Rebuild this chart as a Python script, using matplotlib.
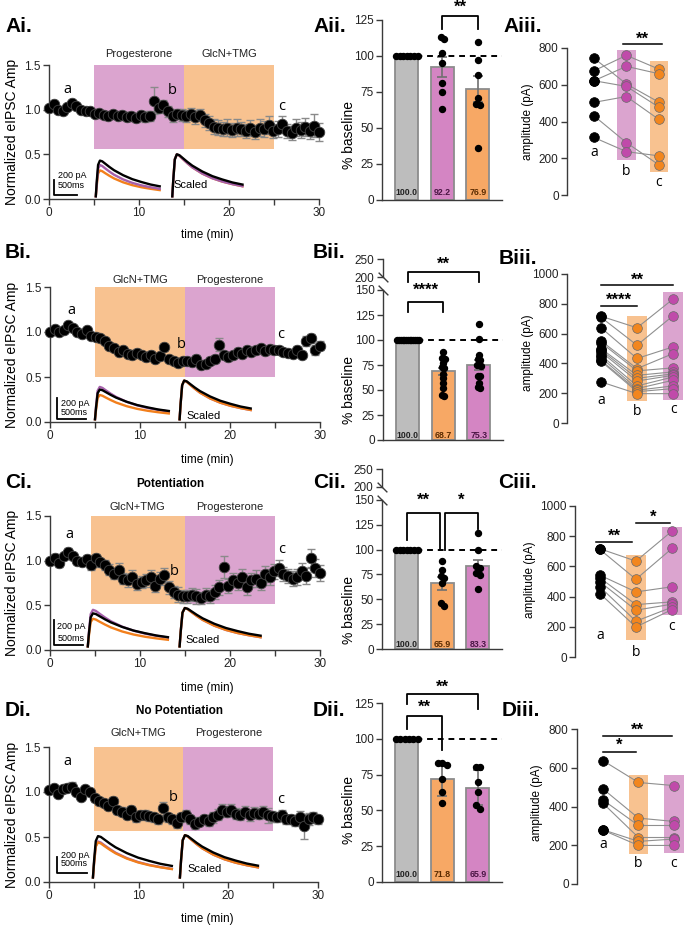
import numpy as np
import matplotlib.pyplot as plt

plt.rcParams['font.family'] = ['Liberation Sans', 'DejaVu Sans']

W, H = 685, 927

# ---------------- time course: normalized eIPSC amplitude (0.5 min bins) ----------------
tc_A = [1.02, 1.06, 1.00, 0.98, 1.03, 1.07, 1.04, 1.00, 0.98, 0.98,
        0.95, 0.96, 0.94, 0.93, 0.95, 0.93, 0.94, 0.92, 0.93, 0.91,
        0.94, 0.92, 0.93, 1.10, 1.02, 1.05, 0.98, 0.93, 0.95, 0.94,
        0.93, 0.95, 0.92, 0.94, 0.88, 0.85, 0.81, 0.80, 0.78, 0.80,
        0.77, 0.80, 0.78, 0.76, 0.79, 0.75, 0.80, 0.78, 0.83, 0.76,
        0.78, 0.84, 0.76, 0.74, 0.80, 0.77, 0.81, 0.76, 0.82, 0.75]
tc_A_err = [0.02, 0.03, 0.03, 0.02, 0.03, 0.03, 0.03, 0.02, 0.02, 0.02,
            0.03, 0.03, 0.03, 0.04, 0.03, 0.04, 0.04, 0.05, 0.04, 0.05,
            0.05, 0.06, 0.06, 0.15, 0.06, 0.06, 0.06, 0.07, 0.06, 0.07,
            0.07, 0.07, 0.08, 0.07, 0.07, 0.08, 0.08, 0.08, 0.08, 0.09,
            0.08, 0.09, 0.08, 0.08, 0.09, 0.08, 0.09, 0.09, 0.10, 0.08,
            0.09, 0.09, 0.08, 0.08, 0.10, 0.09, 0.10, 0.09, 0.13, 0.10]

tc_B = [1.00, 1.03, 1.00, 1.02, 1.08, 1.04, 1.00, 0.98, 1.02, 0.96,
        0.95, 0.93, 0.90, 0.85, 0.82, 0.78, 0.80, 0.76, 0.75, 0.77,
        0.74, 0.72, 0.75, 0.70, 0.73, 0.83, 0.70, 0.68, 0.66, 0.68,
        0.68, 0.67, 0.70, 0.63, 0.64, 0.68, 0.70, 0.86, 0.75, 0.72,
        0.74, 0.78, 0.76, 0.80, 0.78, 0.80, 0.82, 0.79, 0.81, 0.80,
        0.80, 0.78, 0.77, 0.76, 0.80, 0.75, 0.90, 0.93, 0.80, 0.85]
tc_B_err = [0.02, 0.02, 0.02, 0.02, 0.03, 0.03, 0.02, 0.02, 0.03, 0.03,
            0.03, 0.03, 0.03, 0.03, 0.03, 0.04, 0.03, 0.04, 0.03, 0.04,
            0.03, 0.04, 0.04, 0.03, 0.04, 0.04, 0.03, 0.03, 0.04, 0.03,
            0.03, 0.03, 0.04, 0.03, 0.03, 0.04, 0.04, 0.07, 0.04, 0.04,
            0.04, 0.04, 0.04, 0.05, 0.04, 0.04, 0.04, 0.04, 0.04, 0.04,
            0.04, 0.04, 0.04, 0.04, 0.04, 0.04, 0.06, 0.05, 0.06, 0.05]

tc_C = [1.00, 1.03, 0.97, 1.05, 1.10, 1.05, 1.00, 0.98, 1.02, 0.95,
        1.03, 0.98, 0.95, 0.90, 0.85, 0.90, 0.80, 0.78, 0.82, 0.74,
        0.76, 0.78, 0.82, 0.72, 0.80, 0.84, 0.70, 0.65, 0.62, 0.60,
        0.60, 0.62, 0.60, 0.58, 0.62, 0.60, 0.65, 0.70, 0.93, 0.72,
        0.78, 0.75, 0.82, 0.70, 0.78, 0.80, 0.75, 0.85, 0.82, 0.88,
        0.92, 0.85, 0.83, 0.80, 0.82, 0.88, 0.83, 1.03, 0.92, 0.86]
tc_C_err = [0.03, 0.04, 0.04, 0.03, 0.04, 0.04, 0.04, 0.03, 0.04, 0.05,
            0.05, 0.05, 0.06, 0.06, 0.06, 0.07, 0.06, 0.07, 0.07, 0.07,
            0.07, 0.07, 0.08, 0.07, 0.07, 0.08, 0.07, 0.07, 0.08, 0.07,
            0.07, 0.07, 0.08, 0.07, 0.07, 0.07, 0.08, 0.08, 0.12, 0.08,
            0.08, 0.08, 0.09, 0.08, 0.08, 0.09, 0.08, 0.09, 0.09, 0.08,
            0.09, 0.08, 0.08, 0.08, 0.09, 0.09, 0.09, 0.10, 0.10, 0.09]

tc_D = [1.02, 1.04, 0.98, 1.03, 1.05, 1.06, 1.00, 0.95, 1.03, 1.00,
        0.93, 0.90, 0.88, 0.85, 0.90, 0.80, 0.78, 0.75, 0.80, 0.72,
        0.74, 0.75, 0.73, 0.72, 0.70, 0.82, 0.72, 0.70, 0.66, 0.72,
        0.75, 0.70, 0.65, 0.67, 0.70, 0.68, 0.72, 0.75, 0.80, 0.78,
        0.80, 0.76, 0.75, 0.78, 0.74, 0.77, 0.76, 0.78, 0.74, 0.73,
        0.72, 0.74, 0.70, 0.70, 0.68, 0.72, 0.62, 0.70, 0.72, 0.70]
tc_D_err = [0.02, 0.03, 0.03, 0.03, 0.04, 0.05, 0.03, 0.03, 0.04, 0.03,
            0.04, 0.04, 0.04, 0.04, 0.05, 0.04, 0.05, 0.05, 0.05, 0.05,
            0.05, 0.05, 0.05, 0.05, 0.05, 0.07, 0.05, 0.05, 0.06, 0.05,
            0.05, 0.05, 0.06, 0.05, 0.05, 0.06, 0.06, 0.06, 0.07, 0.06,
            0.07, 0.06, 0.06, 0.06, 0.06, 0.06, 0.06, 0.07, 0.08, 0.06,
            0.05, 0.06, 0.05, 0.05, 0.06, 0.07, 0.14, 0.07, 0.06, 0.05]

# example eIPSC trace template (relative time in min, relative amplitude)
trace_t = [0, 0.1, 0.25, 0.45, 0.7, 1.0, 1.5, 2.0, 3.0, 4.0, 5.0, 6.0, 7.0]
trace_slow = [0, 0.4, 0.88, 1.0, 0.98, 0.92, 0.82, 0.73, 0.59, 0.48, 0.40, 0.33, 0.28]
trace_fast = [0, 0.4, 0.88, 1.0, 0.97, 0.90, 0.79, 0.69, 0.54, 0.43, 0.35, 0.29, 0.24]

# ---------------- % baseline bars ----------------
bar_A = [100.0, 92.2, 76.9]
bar_A_err = [0, 7.0, 9.0]
pts_A = [[100] * 7, [113, 112, 102, 95, 81, 75, 63], [110, 97, 87, 71, 67, 66, 36]]

bar_B = [100.0, 68.7, 75.3]
bar_B_err = [0, 3.5, 5.0]
pts_B = [[100] * 13, [88, 82, 82, 81, 77, 73, 72, 66, 62, 57, 52, 45, 44],
         [116, 101, 85, 81, 80, 75, 75, 74, 64, 64, 57, 53, 52]]

bar_C = [100.0, 65.9, 83.3]
bar_C_err = [0, 6.5, 6.5]
pts_C = [[100] * 7, [88, 79, 73, 71, 66, 46, 43], [117, 100, 83, 81, 76, 74, 60]]

bar_D = [100.0, 71.8, 65.9]
bar_D_err = [0, 11.5, 12.0]
pts_D = [[100] * 6, [83, 83, 82, 72, 63, 55], [80, 80, 70, 63, 54, 51]]

# ---------------- paired amplitudes (pA) ----------------
amp_A = [[745, 676, 622, 622, 504, 431, 313],
         [604, 760, 700, 591, 536, 285, 236],
         [505, 685, 660, 478, 411, 164, 213]]
amp_B = [[717, 710, 640, 552, 540, 500, 490, 478, 455, 440, 421, 415, 276],
         [639, 522, 433, 365, 350, 320, 300, 282, 249, 231, 220, 210, 197],
         [832, 720, 511, 466, 370, 343, 330, 320, 309, 287, 249, 231, 197]]
amp_C = [[717, 712, 542, 524, 498, 465, 420],
         [635, 515, 431, 347, 310, 237, 199],
         [834, 719, 465, 365, 350, 330, 314]]
amp_D = [[637, 491, 434, 417, 280, 278],
         [524, 340, 302, 240, 220, 199],
         [508, 323, 302, 240, 232, 199]]
# shaded range behind columns b and c
rng_A = [(190, 790), (127, 727)]
rng_B = [(146, 717), (152, 881)]
rng_C = [(115, 675), (277, 863)]
rng_D = [(156, 563), (160, 563)]

GREY_BAR = '#bdbdbd'
PINK_BAR = '#d485c3'
ORNG_BAR = '#f7a865'
PINK_SH = '#dba4cf'
ORNG_SH = '#f8c290'
PINK_PT = '#c04aaa'
ORNG_PT = '#f2861e'
PINK_TR = '#a560aa'
ORNG_TR = '#f27f1c'
AX_COL = '#3a3a3a'

fig = plt.figure(figsize=(W / 100, H / 100), dpi=100)


def add_ax(l, t, r, b):
    return fig.add_axes([l / W, 1 - b / H, (r - l) / W, (b - t) / H])


def ftext(x, y, s, **kw):
    fig.text(x / W, 1 - y / H, s, **kw)


def base_style(ax, bottom=True):
    ax.spines['top'].set_visible(False)
    ax.spines['right'].set_visible(False)
    ax.spines['bottom'].set_visible(bottom)
    for sp in ax.spines.values():
        sp.set_color(AX_COL)
        sp.set_linewidth(1.0)
    ax.tick_params(direction='out', length=4, width=1, color=AX_COL,
                   labelsize=8.5, labelcolor='#222222', pad=2)
    ax.patch.set_alpha(0)


def time_course(ax, vals, errs, drugs, spans, shade_lo, drug_y, trace_cfg, letters):
    base_style(ax)
    t = np.linspace(0, 30, len(vals))
    ax.set_xlim(0, 30)
    ax.set_ylim(0, 1.5)
    ax.set_xticks(range(0, 31, 5))
    ax.set_xticklabels(['0', '', '10', '', '20', '', '30'])
    ax.set_yticks([0, 0.5, 1.0, 1.5])
    ax.set_yticklabels(['0.0', '0.5', '1.0', '1.5'])
    for (name, col), (x0, x1) in zip(drugs, spans):
        ax.fill_between([x0, x1], [shade_lo] * 2, [1.5] * 2, color=col, lw=0, zorder=0)
        ax.text((x0 + x1) / 2, drug_y, name, ha='center', va='center', fontsize=8,
                color='#222222', clip_on=False)
    ax.errorbar(t, vals, yerr=errs, fmt='none', ecolor='#8a8a8a', elinewidth=1.0,
                capsize=3, capthick=1.0, zorder=2, clip_on=False)
    ax.plot(t, vals, 'o', color='black', ms=7.6, mec='#444444', mew=0.6, zorder=3,
            clip_on=False)
    for s, (x, y) in zip('abc', letters):
        ax.text(x, y, s, ha='center', va='center', fontsize=10.5, family='Open Sans')
    # example traces
    cfg = trace_cfg
    tt = np.array(trace_t)
    for shape, col, amp in zip([trace_fast, trace_fast, trace_slow], cfg['cols'], cfg['left']):
        ax.plot(cfg['x0'][0] + tt * cfg['dur'][0] / 7.0, cfg['base'] + amp * np.array(shape),
                color=col, lw=1.7, zorder=4)
    for shape, col in zip([trace_fast, trace_fast, trace_slow], cfg['cols']):
        ax.plot(cfg['x0'][1] + tt * cfg['dur'][1] / 7.0, cfg['base'] + cfg['right'] * np.array(shape),
                color=col, lw=1.7, zorder=4)
    sx, sx2, sy0, sy1 = cfg['bar']
    ax.plot([sx, sx, sx2], [sy1, sy0, sy0], color='black', lw=1.3, zorder=4)
    ax.text(sx + 0.4, cfg['txt'][0], '200 pA', fontsize=6.5, va='center')
    ax.text(sx + 0.4, cfg['txt'][1], '500ms', fontsize=6.5, va='center')
    ax.text(cfg['scaled'][0], cfg['scaled'][1], 'Scaled', fontsize=8, va='center')


def swarm(vals, n_all):
    step = min(0.25, 0.6 / max(n_all - 1, 1))
    vals = sorted(vals, reverse=True)
    xs, ys, group = [], [], [vals[0]]
    for v in vals[1:] + [None]:
        if v is not None and abs(v - group[-1]) <= 3:
            group.append(v)
            continue
        n = len(group)
        off = (np.arange(n) - (n - 1) / 2) * step
        xs.extend(off)
        ys.extend(group)
        if v is not None:
            group = [v]
    return np.array(xs), np.array(ys)


def bar_panel(ax, means, errs, pts, colors, txt_cols, brackets, broken=False):
    base_style(ax)
    x = np.arange(3)
    if broken:
        fwd = lambda v: np.interp(v, [0, 150, 200, 250], [0, 150, 163, 181])
        inv = lambda v: np.interp(v, [0, 150, 163, 181], [0, 150, 200, 250])
        ax.set_yscale('function', functions=(fwd, inv))
        ax.set_ylim(0, 250)
        ax.set_yticks([0, 25, 50, 75, 100, 125, 150, 200, 250])
        ax.spines['left'].set_visible(False)
        tr = ax.get_yaxis_transform()
        ax.plot([0, 0], [0, 150], color=AX_COL, lw=1, transform=tr, clip_on=False)
        ax.plot([0, 0], [200, 250], color=AX_COL, lw=1, transform=tr, clip_on=False)
        ax.plot([0, 0], [150, 200], ls='', marker=[(-1, 1), (1, -1)], ms=7, mec=AX_COL,
                mew=1, transform=tr, clip_on=False)
    else:
        ax.set_ylim(0, 125)
        ax.set_yticks([0, 25, 50, 75, 100, 125])
    ax.set_xlim(-0.7, 2.68)
    ax.set_xticks([])
    ax.bar(x, means, width=0.65, color=colors, edgecolor='#8c8c8c', linewidth=1.3, zorder=1)
    for xi, m, e in zip(x, means, errs):
        if e > 0:
            ax.errorbar(xi, m, yerr=e, fmt='none', ecolor='#707070', elinewidth=1.2,
                        capsize=3.5, capthick=1.2, zorder=2)
    ax.plot([-0.33, 2.68], [100, 100], ls=(0, (3, 2.5)), color='black', lw=1.4, zorder=3)
    for xi, p in zip(x, pts):
        dx, dy = swarm(list(p), len(p))
        ax.plot(xi + dx, dy, 'o', color='black', ms=4.3, zorder=4, clip_on=False)
    for xi, m, c in zip(x, means, txt_cols):
        ax.text(xi, 5, f'{m:.1f}', ha='center', va='center', fontsize=6.3,
                fontweight='bold', color=c, zorder=5)
    for x1, x2, ytop, y1, y2, s, ys in brackets:
        ax.plot([x1, x1, x2, x2], [y1, ytop, ytop, y2], color='black', lw=1.3,
                clip_on=False, zorder=5)
        ax.text((x1 + x2) / 2, ys, s, ha='center', va='center', fontsize=12,
                fontweight='bold', clip_on=False)


def amp_panel(ax, amps, rngs, cols, xlim, ymax, labels_y, sig):
    base_style(ax, bottom=False)
    ax.set_xlim(*xlim)
    ax.set_ylim(0, ymax)
    ax.set_yticks(range(0, ymax + 1, 200))
    ax.set_xticks([])
    for xi, (lo, hi), c in zip([1, 2], rngs, [cols[1], cols[2]]):
        ax.fill_between([xi - 0.28, xi + 0.28], [lo] * 2, [hi] * 2, color=c[1], lw=0, zorder=0)
    a, b, c = amps
    for i in range(len(a)):
        ax.plot([0, 1, 2], [a[i], b[i], c[i]], color='#8f8f8f', lw=0.8, zorder=1)
    for xi, vals, col in zip([0, 1, 2], amps, cols):
        ax.plot([xi] * len(vals), vals, 'o', color=col[0], ms=7, mec='#6a6a6a' if xi else 'black',
                mew=0.5, zorder=3, clip_on=False)
    for xi, s, yy in zip([0, 1, 2], 'abc', labels_y):
        ax.text(xi, yy, s, ha='center', va='center', fontsize=10, family='Open Sans')
    for x1, x2, y, s, ys in sig:
        ax.plot([x1, x2], [y, y], color='black', lw=1.1, clip_on=False)
        ax.text((x1 + x2) / 2, ys, s, ha='center', va='center', fontsize=12,
                fontweight='bold', clip_on=False)


pink_pair = (PINK_PT, PINK_SH)
orng_pair = (ORNG_PT, ORNG_SH)
black_pair = ('black', None)

# ---------------- row A ----------------
ax = add_ax(49, 65, 319, 199)
time_course(ax, tc_A, tc_A_err, [('Progesterone', PINK_SH), ('GlcN+TMG', ORNG_SH)],
            [(5, 15), (15, 25)], 0.56, 1.62,
            dict(x0=(5.2, 13.7), dur=(7.1, 7.8), base=0.03, left=[0.29, 0.35, 0.40], right=0.47,
                 cols=[ORNG_TR, PINK_TR, 'black'], bar=(0.6, 3.1, 0.05, 0.21),
                 txt=(0.26, 0.15), scaled=(13.8, 0.16)),
            [(2.1, 1.23), (13.7, 1.21), (25.8, 1.04)])
ax = add_ax(382, 20, 502, 200)
bar_panel(ax, bar_A, bar_A_err, pts_A, [GREY_BAR, PINK_BAR, ORNG_BAR],
          ['#222222', '#4a1544', '#5a2a00'], [(1, 2, 128, 119, 119, '**', 134)])
ax = add_ax(567, 48, 680, 195)
amp_panel(ax, amp_A, rng_A, [black_pair, pink_pair, orng_pair], (-0.83, 2.65), 800,
          [232, 129, 69], [(0.9, 2.1, 822, '**', 845)])

# ---------------- row B ----------------
ax = add_ax(50, 287, 320, 422)
time_course(ax, tc_B, tc_B_err, [('GlcN+TMG', ORNG_SH), ('Progesterone', PINK_SH)],
            [(5, 15), (15, 25)], 0.50, 1.58,
            dict(x0=(5.0, 14.4), dur=(8.2, 7.9), base=0.03, left=[0.36, 0.27, 0.33], right=0.43,
                 cols=[PINK_TR, ORNG_TR, 'black'], bar=(0.78, 4.0, 0.03, 0.27),
                 txt=(0.21, 0.11), scaled=(15.2, 0.07)),
            [(2.4, 1.24), (14.6, 0.86), (25.6, 0.97)])
ax = add_ax(383, 259, 503, 440)
bar_panel(ax, bar_B, bar_B_err, pts_B, [GREY_BAR, ORNG_BAR, PINK_BAR],
          ['#222222', '#5a2a00', '#4a1544'],
          [(0, 2, 215, 182, 182, '**', 236), (0, 1, 138, 128, 128, '****', 150)], broken=True)
ax = add_ax(567, 274, 685, 423)
amp_panel(ax, amp_B, rng_B, [black_pair, orng_pair, pink_pair], (-0.94, 2.33), 1000,
          [152, 74, 90], [(0, 2, 926, '**', 955), (0, 1, 785, '****', 825)])

# ---------------- row C ----------------
ax = add_ax(50, 516, 320, 650)
time_course(ax, tc_C, tc_C_err, [('GlcN+TMG', ORNG_SH), ('Progesterone', PINK_SH)],
            [(4.5, 15), (15, 25)], 0.51, 1.6,
            dict(x0=(4.2, 14.4), dur=(8.9, 9.0), base=0.04, left=[0.41, 0.31, 0.37], right=0.43,
                 cols=[PINK_TR, ORNG_TR, 'black'], bar=(0.4, 3.7, 0.06, 0.34),
                 txt=(0.26, 0.13), scaled=(15.1, 0.11)),
            [(2.2, 1.29), (13.8, 0.88), (25.7, 1.13)])
ax = add_ax(382, 469, 502, 649)
bar_panel(ax, bar_C, bar_C_err, pts_C, [GREY_BAR, ORNG_BAR, PINK_BAR],
          ['#222222', '#5a2a00', '#4a1544'],
          [(0, 0.93, 137, 110, 100, '**', 150), (1.07, 2, 137, 100, 121, '*', 150)], broken=True)
ax = add_ax(575, 506, 685, 657)
amp_panel(ax, amp_C, rng_C, [black_pair, orng_pair, pink_pair], (-0.69, 2.36), 1000,
          [144, 33, 199], [(-0.1, 0.9, 763, '**', 800), (1.0, 1.95, 885, '*', 925)])

# ---------------- row D ----------------
ax = add_ax(49, 747, 318, 882)
time_course(ax, tc_D, tc_D_err, [('GlcN+TMG', ORNG_SH), ('Progesterone', PINK_SH)],
            [(5, 15), (15, 25)], 0.57, 1.66,
            dict(x0=(4.9, 14.6), dur=(8.8, 8.7), base=0.05, left=[0.40, 0.39, 0.46], right=0.47,
                 cols=[PINK_TR, ORNG_TR, 'black'], bar=(0.9, 4.2, 0.1, 0.28),
                 txt=(0.29, 0.2), scaled=(15.4, 0.14)),
            [(2.1, 1.34), (13.9, 0.94), (25.8, 0.92)])
ax = add_ax(382, 703, 502, 882)
bar_panel(ax, bar_D, bar_D_err, pts_D, [GREY_BAR, ORNG_BAR, PINK_BAR],
          ['#222222', '#5a2a00', '#4a1544'],
          [(0, 2, 131, 124, 121, '**', 136), (0, 1, 116, 107, 92, '**', 122)])
ax = add_ax(577, 729, 685, 884)
amp_panel(ax, amp_D, rng_D, [black_pair, orng_pair, pink_pair], (-0.73, 2.31), 800,
          [203, 108, 108], [(0, 1.95, 766, '**', 795), (0, 0.93, 680, '*', 715)])

# ---------------- labels ----------------
for tag, x, y in [('Ai.', 5, 26), ('Aii.', 313, 27), ('Aiii.', 503, 27),
                  ('Bi.', 5, 253), ('Bii.', 313, 253), ('Biii.', 499, 258),
                  ('Ci.', 5, 483), ('Cii.', 313, 483), ('Ciii.', 498, 483),
                  ('Di.', 5, 711), ('Dii.', 313, 711), ('Diii.', 502, 710)]:
    ftext(x, y, tag, fontsize=15, fontweight='bold', va='center', ha='left')

for y in [132, 355, 583, 815]:
    ftext(12, y, 'Normalized eIPSC Amp', rotation=90, fontsize=10, ha='center', va='center')
for y in [235, 460, 688, 919]:
    ftext(207, y, 'time (min)', fontsize=8.5, ha='center', va='center')
for y in [135, 390, 610, 810]:
    ftext(349, y, '% baseline', rotation=90, fontsize=10, ha='center', va='center')
for x, y in [(528, 122), (528, 353), (530, 580), (537, 803)]:
    ftext(x, y, 'amplitude (pA)', rotation=90, fontsize=8.5, ha='center', va='center')
ftext(170, 484, 'Potentiation', fontsize=8.5, fontweight='bold', ha='center', va='center')
ftext(180, 711, 'No Potentiation', fontsize=8.5, fontweight='bold', ha='center', va='center')

fig.savefig('out.png', dpi=100)
